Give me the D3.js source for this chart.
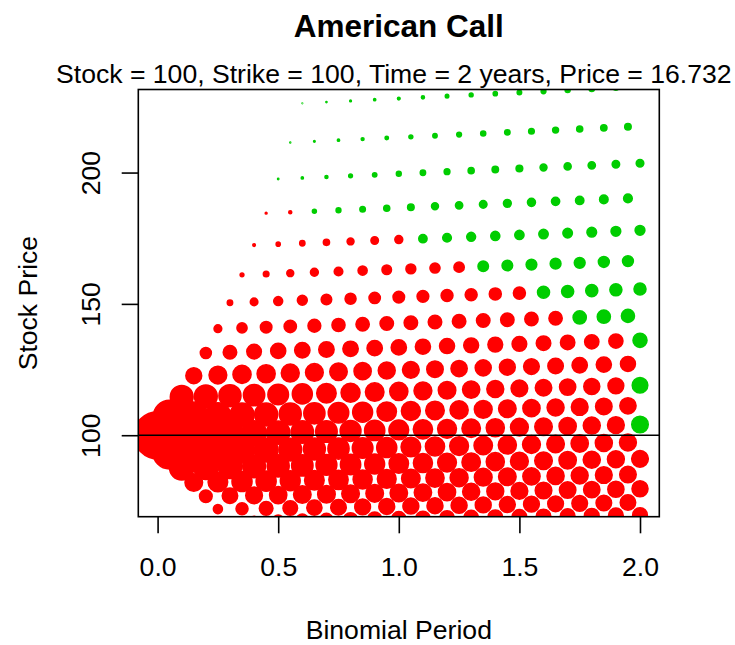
<!DOCTYPE html>
<html>
<head>
<meta charset="utf-8">
<script src="https://cdn.jsdelivr.net/npm/d3@7"></script>
<style>
  body { margin: 0; background: #fff; }
  svg { display: block; }
  text { font-family: "Liberation Sans", Arial, Helvetica, sans-serif; fill: #000; }
</style>
</head>
<body>
<svg id="chart" width="735" height="645"></svg>
<script>
const stock = 100, strike = 100, years = 2, steps = 40;
const vol = 0.30, rate = 0.08, divYield = 0.06;

const xTicks = [0, 0.5, 1, 1.5, 2];
const yTicks = [100, 150, 200];
const xRange = [0, 2];
const yRange = [75, 225.6];

const titleText = 'American Call';
const subText = 'Stock = 100, Strike = 100, Time = 2 years, Price = 16.732';
const xLabel = 'Binomial Period';
const yLabel = 'Stock Price';

// 1. Build the binomial tree
const h = years / steps;
const up = Math.exp((rate - divYield) * h + vol * Math.sqrt(h));
const dn = Math.exp((rate - divYield) * h - vol * Math.sqrt(h));
const pUp = (Math.exp((rate - divYield) * h) - dn) / (up - dn);
const disc = Math.exp(-rate * h);

const price = [], prob = [], value = [], exercised = [];
for (let i = 0; i <= steps; i++) {
  price.push([]); prob.push([]); value.push([]); exercised.push([]);
  for (let j = 0; j <= i; j++) {
    price[i][j] = stock * Math.pow(up, j) * Math.pow(dn, i - j);
    if (i === 0) prob[i][j] = 1;
    else prob[i][j] = (j < i ? prob[i - 1][j] * (1 - pUp) : 0) + (j > 0 ? prob[i - 1][j - 1] * pUp : 0);
  }
}
// expiry: exercised when in the money
for (let j = 0; j <= steps; j++) {
  value[steps][j] = Math.max(price[steps][j] - strike, 0);
  exercised[steps][j] = price[steps][j] > strike;
}
// roll back, early exercise when intrinsic beats holding
for (let i = steps - 1; i >= 0; i--) {
  for (let j = 0; j <= i; j++) {
    const cont = disc * (pUp * value[i + 1][j + 1] + (1 - pUp) * value[i + 1][j]);
    const intr = price[i][j] - strike;
    exercised[i][j] = intr > cont;
    value[i][j] = Math.max(intr, cont);
  }
}

const nodes = [];
for (let i = 0; i <= steps; i++) {
  for (let j = 0; j <= i; j++) {
    nodes.push({ t: i * h, s: price[i][j], p: prob[i][j], ex: exercised[i][j] });
  }
}

// 2. Layout
const plot = { left: 138.3, right: 659.3, top: 89.5, bottom: 516.7 };
const fontSize = 26.6;
const svg = d3.select('#chart');

const padX = (xRange[1] - xRange[0]) * 0.04;
const padY = (yRange[1] - yRange[0]) * 0.04;
const x = d3.scaleLinear().domain([xRange[0] - padX, xRange[1] + padX]).range([plot.left, plot.right]);
const y = d3.scaleLinear().domain([yRange[0] - padY, yRange[1] + padY]).range([plot.bottom, plot.top]);
const r = d3.scaleSqrt().domain([0, 1]).range([0, 23.5]);

svg.append('clipPath').attr('id', 'plotclip')
  .append('rect')
  .attr('x', plot.left).attr('y', plot.top)
  .attr('width', plot.right - plot.left).attr('height', plot.bottom - plot.top);

const g = svg.append('g').attr('clip-path', 'url(#plotclip)');

// 3. Nodes, size by chance of reaching them
g.selectAll('circle')
  .data(nodes)
  .enter()
  .append('circle')
  .attr('cx', d => x(d.t))
  .attr('cy', d => y(d.s))
  .attr('r', d => r(d.p))
  .attr('fill', d => d.ex ? '#00CD00' : '#FF0000')
  .attr('stroke', d => d.ex ? '#00CD00' : '#FF0000')
  .attr('stroke-width', 1.6);

// Strike line
g.append('line')
  .attr('x1', plot.left).attr('x2', plot.right)
  .attr('y1', y(strike)).attr('y2', y(strike))
  .attr('stroke', '#000').attr('stroke-width', 1.6);

// 4. Box and axes
svg.append('rect')
  .attr('x', plot.left).attr('y', plot.top)
  .attr('width', plot.right - plot.left).attr('height', plot.bottom - plot.top)
  .attr('fill', 'none').attr('stroke', '#000').attr('stroke-width', 1.6);

const xAxis = d3.axisBottom(x).tickValues(xTicks).tickFormat(d3.format('.1f')).tickSize(16.6);
const gx = svg.append('g').attr('transform', `translate(0,${plot.bottom})`).call(xAxis);
gx.select('.domain').remove();
gx.selectAll('.tick line').attr('stroke', '#000').attr('stroke-width', 1.6);
gx.selectAll('.tick text').attr('font-size', fontSize).attr('dy', null).attr('y', 59.3)
  .attr('font-family', '"Liberation Sans", Arial, sans-serif');

const yAxis = d3.axisLeft(y).tickValues(yTicks).tickSize(16.6);
const gy = svg.append('g').attr('transform', `translate(${plot.left},0)`).call(yAxis);
gy.select('.domain').remove();
gy.selectAll('.tick line').attr('stroke', '#000').attr('stroke-width', 1.6);
gy.selectAll('.tick text')
  .attr('font-size', fontSize)
  .attr('font-family', '"Liberation Sans", Arial, sans-serif')
  .attr('x', null).attr('dy', null)
  .attr('text-anchor', 'middle')
  .attr('transform', 'translate(-38.3,0) rotate(-90)');

// 5. Titles
const midX = (plot.left + plot.right) / 2;
svg.append('text')
  .attr('x', midX).attr('y', 36.7)
  .attr('text-anchor', 'middle').attr('font-size', 31.5).attr('font-weight', 'bold')
  .text(titleText);

// nudged a little left so the last digit stays on the page
svg.append('text')
  .attr('x', midX - 5).attr('y', 83.3)
  .attr('text-anchor', 'middle').attr('font-size', fontSize)
  .text(subText);

svg.append('text')
  .attr('x', midX).attr('y', 638.5)
  .attr('text-anchor', 'middle').attr('font-size', fontSize)
  .text(xLabel);

svg.append('text')
  .attr('transform', `translate(36.7,${(plot.top + plot.bottom) / 2}) rotate(-90)`)
  .attr('text-anchor', 'middle').attr('font-size', fontSize)
  .text(yLabel);
</script>
</body>
</html>
